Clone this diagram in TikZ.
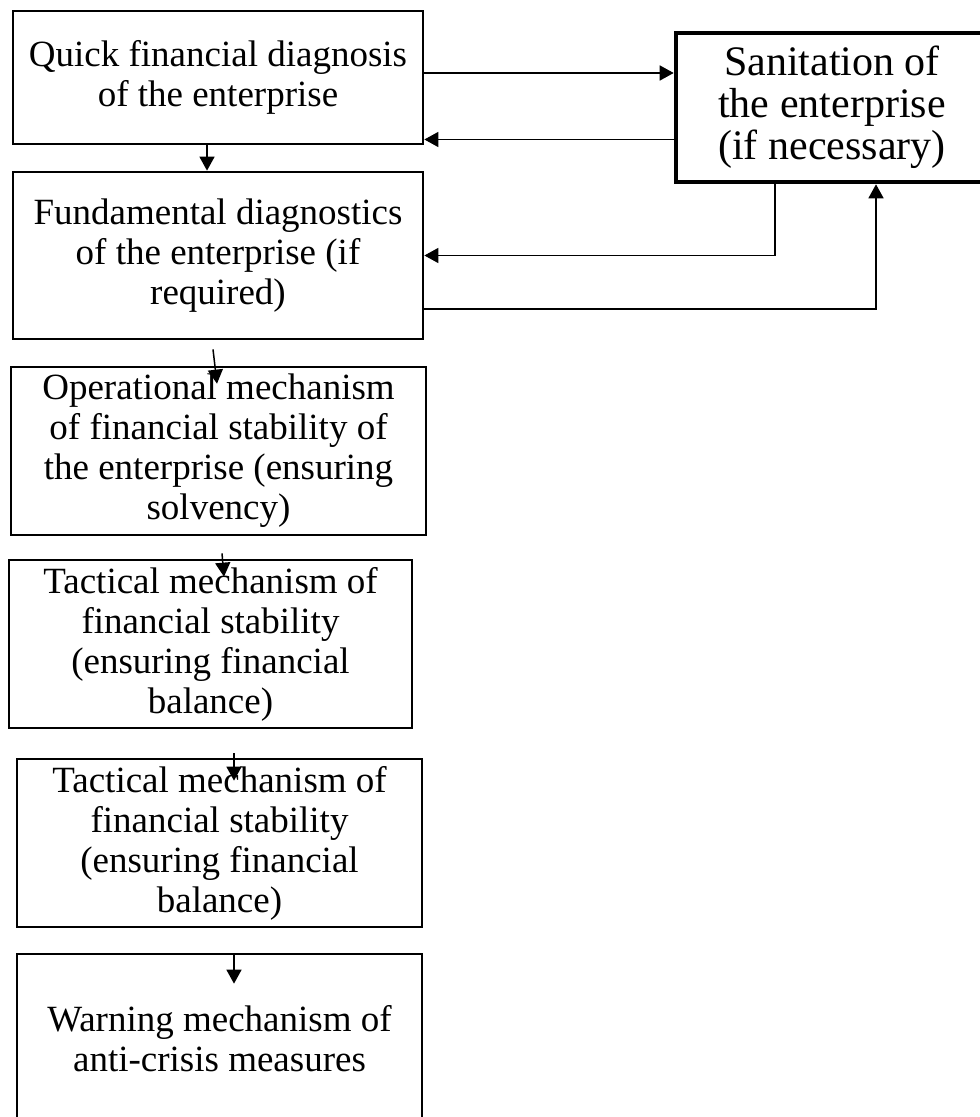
\documentclass[tikz,border=0pt]{standalone}
\usepackage{fontspec}
\setmainfont{Liberation Serif}
\usepackage{tikz}
\usetikzlibrary{arrows.meta,positioning,calc}
\newcommand{\boxfont}{\fontsize{18.5}{20}\selectfont}
\newcommand{\sanfont}{\fontsize{21}{21}\selectfont}

\begin{document}
\begin{tikzpicture}[x=0.5pt,y=-0.5pt]
    \tikzset{
      block/.style={draw=black,line width=1.35pt,inner sep=0pt,align=center,font=\boxfont,minimum height=84pt},
      sanbox/.style={draw=black,line width=2.3pt,inner sep=0pt,align=center,font=\sanfont,minimum width=156pt,minimum height=74.5pt},
      arrow/.style={-{Triangle[length=7pt,width=7.5pt]},draw=black,line width=0.75pt}
    }
    \useasboundingbox (0,0) rectangle (979,1117);
    % left column
    \node[block,minimum width=205pt,minimum height=66.5pt] (quick) at (218,77.5) {Quick financial diagnosis\\of the enterprise};
    \node[block,minimum width=205pt,minimum height=83.5pt] (fund) at (218,255.5) {Fundamental diagnostics\\of the enterprise (if\\required)};
    \node[block,minimum width=207.5pt] (oper) at (218.5,451) {Operational mechanism\\of financial stability of\\the enterprise (ensuring\\solvency)};
    \node[block,minimum width=201.5pt] (tactA) at (210.5,644) {Tactical mechanism of\\financial stability\\(ensuring financial\\balance)};
    \node[block,minimum width=202.5pt] (tactB) at (219.5,843) {Tactical mechanism of\\financial stability\\(ensuring financial\\balance)};
    \node[block,minimum width=202.5pt,minimum height=85pt] (warn) at (219.5,1039) {Warning mechanism of\\anti-crisis measures};
    % right box
    \node[sanbox] (san) at (832,107.5) {Sanitation of\\the enterprise\\(if necessary)};
    % links with the sanitation box
    \draw[arrow] ([yshift=2.25pt]quick.east) -- ([yshift=2.25pt]quick.east -| san.west);
    \draw[arrow] ([yshift=-31pt]quick.east -| san.west) -- ([yshift=-31pt]quick.east);
    \draw[arrow] ([xshift=-28.5pt]san.south) |- (fund.east);
    \draw[arrow] ([yshift=-26.75pt]fund.east) -| ([xshift=22pt]san.south);
    % downward chain
    \draw[arrow] ([xshift=-5.5pt]quick.south) -- ([xshift=-5.5pt]quick.south |- fund.north);
    \draw[arrow] ([shift={(-2.5pt,-4.5pt)}]fund.south) -- ([shift={(-0.75pt,-9pt)}]oper.north);
    \draw[arrow] ([shift={(1.75pt,-8.5pt)}]oper.south) -- ([shift={(6.75pt,-9pt)}]tactA.north);
    \draw[arrow] ([shift={(11.75pt,-12pt)}]tactA.south) -- ([shift={(7.25pt,-11.5pt)}]tactB.north);
    \draw[arrow] ([shift={(7.25pt,-12.5pt)}]tactB.south) -- ([shift={(7.25pt,-15.5pt)}]warn.north);
  \end{tikzpicture}
\end{document}
